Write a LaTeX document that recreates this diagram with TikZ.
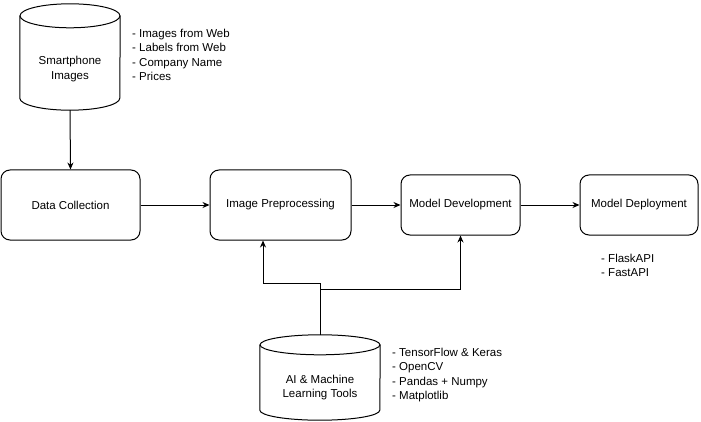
\documentclass[tikz,border=0pt]{standalone}
\usepackage{fontspec}
\setmainfont{Liberation Sans}
\usetikzlibrary{arrows.meta}

\tikzset{
	stepbox/.style={draw,rounded corners=9pt,align=center,line width=1pt},
	store/.style={align=center,inner sep=0pt},
	notes/.style={align=left,anchor=west,inner sep=0pt},
	flow/.style={-{Stealth[length=7pt,width=6pt]},line width=1pt}
}

% outline of a cylinder round a node: #1 name, #2 half width, #3 cap radius
\newcommand{\cylout}[3]{%
	\draw[line width=1pt] ([yshift=#3pt]#1.north west) -- ([yshift=#3pt]#1.south west)
		arc[start angle=180,end angle=360,x radius=#2pt,y radius=#3pt]
		-- ([yshift=#3pt]#1.north east);
	\draw[line width=1pt] ([yshift=#3pt]#1.north) ellipse[x radius=#2pt,y radius=#3pt];
}

\begin{document}
\begin{tikzpicture}[x=1pt,y=1pt,font=\fontsize{11.5}{14.5}\selectfont]
	\useasboundingbox (0,0) rectangle (701,421);

	% sources
	\node[store,minimum width=100pt,minimum height=82pt] (smart) at (70,352) {Smartphone\\Images};
	\cylout{smart}{50}{12}
	\node[notes] (smartnotes) at (132,366) {- Images from Web\\- Labels from Web\\- Company Name\\- Prices};

	% pipeline
	\node[stepbox,minimum width=139pt,minimum height=70pt] (collect) at (70.5,216) {Data Collection};
	\node[stepbox,minimum width=141pt,minimum height=70pt] (prep) at (280.5,216) {Image Preprocessing};
	\node[stepbox,minimum width=119pt,minimum height=60pt] (develop) at (460.5,216) {Model Development};
	\node[stepbox,minimum width=118pt,minimum height=60pt] (deploy) at (639,216) {Model Deployment};
	\node[notes] (deploynotes) at (601,155.5) {- FlaskAPI\\- FastAPI};

	% tools
	\node[store,minimum width=120pt,minimum height=65pt] (tools) at (320,33.5) {AI \& Machine\\Learning Tools};
	\cylout{tools}{60}{10}
	\coordinate (toolstop) at ([yshift=20pt]tools.north);
	\node[notes] (toolnotes) at (392,46) {- TensorFlow \& Keras\\- OpenCV\\- Pandas + Numpy\\- Matplotlib};

	\draw[flow] (smart.south) -- (collect.north);
	\draw[flow] (collect.east) -- (prep.west);
	\draw[flow] (prep.east) -- (develop.west);
	\draw[flow] (develop.east) -- (deploy.west);
	\draw[flow] (toolstop) -- ++(0,51) -| ([xshift=-17.5pt]prep.south);
	\draw[flow] (toolstop) -- ++(0,45) -| (develop.south);

\end{tikzpicture}
\end{document}
